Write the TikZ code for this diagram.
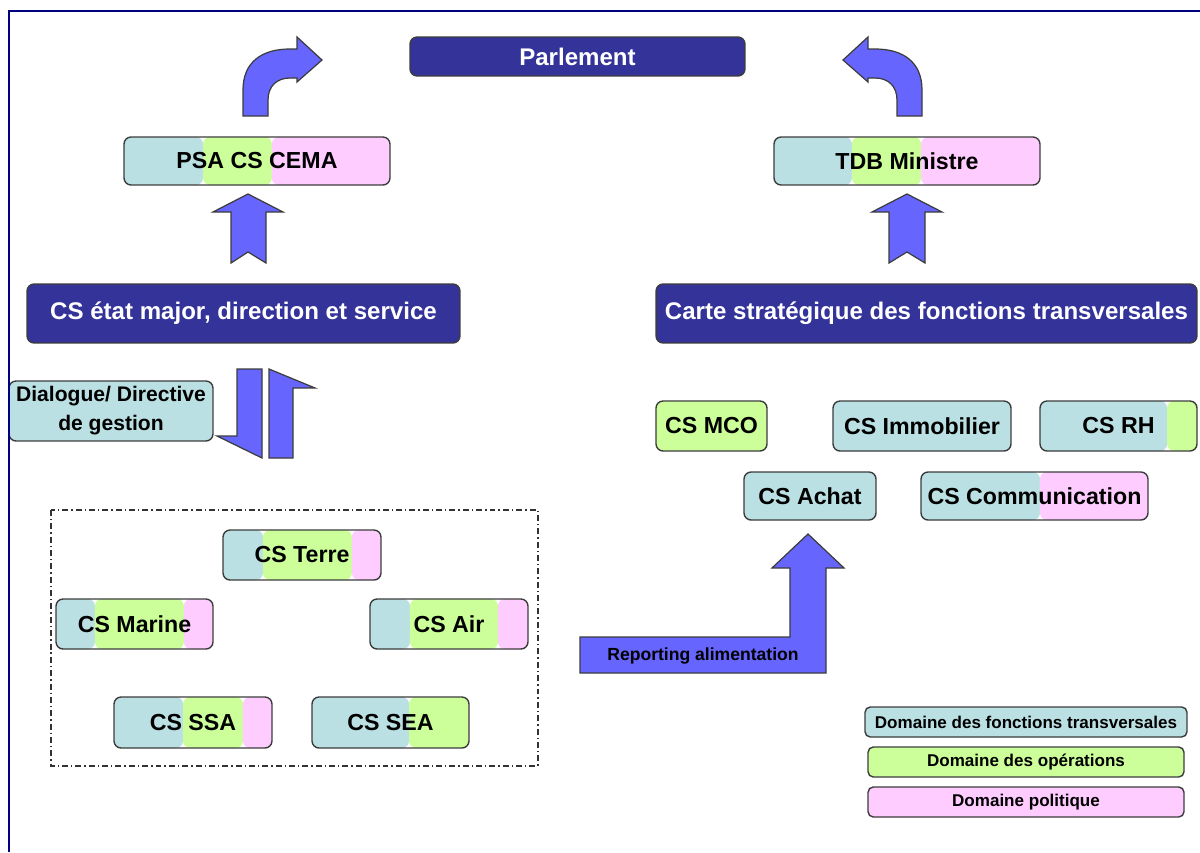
\documentclass[tikz,border=0pt]{standalone}
\usepackage{fontspec}
\setmainfont{Liberation Sans}
\usetikzlibrary{calc}
\definecolor{framec}{HTML}{000080}
\definecolor{darkc}{HTML}{333399}
\definecolor{transc}{HTML}{BBE0E3}
\definecolor{opc}{HTML}{CCFF99}
\definecolor{polc}{HTML}{FFCCFF}
\definecolor{arrowc}{HTML}{6666FF}
\definecolor{edgec}{HTML}{3C3C3C}
\tikzset{
  darkbox/.style={draw=edgec, fill=darkc, rounded corners=4pt, line width=0.8pt, inner sep=0pt, text=white, font=\fontsize{13.7}{16}\selectfont\bfseries},
  csbox/.style 2 args={draw=edgec, rounded corners=4pt, line width=0.8pt, inner sep=0pt, font=\fontsize{13.2}{15}\selectfont\bfseries,
    path picture={
      \coordinate (sw) at (path picture bounding box.south west);
      \coordinate (se) at (path picture bounding box.south east);
      \coordinate (nw) at (path picture bounding box.north west);
      \coordinate (ne) at (path picture bounding box.north east);
      \fill[transc] (sw) rectangle ($(nw)!#1!(ne)$);
      \fill[opc] ($(sw)!#1!(se)$) rectangle ($(nw)!#2!(ne)$);
      \fill[polc] ($(sw)!#2!(se)$) rectangle (ne);
    }},
  legend/.style={rounded corners=3pt, minimum height=0.6cm, font=\fontsize{9.7}{11}\selectfont\bfseries},
  blockarrow/.style={fill=arrowc, draw=edgec, line width=0.7pt, line join=miter},
  dashdotline/.style={draw=black!80, line width=0.6pt, dash pattern=on 3.4pt off 1.7pt on 0.8pt off 1.7pt},
}

\begin{document}
\begin{tikzpicture}[x=0.02cm, y=-0.02cm]
\useasboundingbox (0,0) rectangle (1200,852);
\fill[white] (0,0) rectangle (1200,852);

\node[darkbox, minimum width=6.70cm, minimum height=0.78cm] (parl) at (577.5,56.5) {Parlement};
\node[csbox={0.297}{0.556}, minimum width=5.32cm, minimum height=0.96cm] (psa) at (257,161) {PSA CS CEMA};
\node[csbox={0.293}{0.553}, minimum width=5.32cm, minimum height=0.96cm] (tdb) at (907,161) {TDB Ministre};
\node[darkbox, minimum width=8.66cm, minimum height=1.18cm] (etat) at (243.5,313.5) {CS état major, direction et service};
\node[darkbox, minimum width=10.82cm, minimum height=1.18cm] (carte) at (926.5,313.5) {Carte stratégique des fonctions transversales};

\node[csbox={1}{1}, align=center, minimum width=4.08cm, minimum height=1.2cm, font=\fontsize{12}{16.5}\selectfont\bfseries] (dial) at (111,411) {Dialogue/ Directive\\de gestion};

\node[csbox={0}{1}, minimum width=2.22cm, minimum height=1.0cm] (mco) at (711.5,426) {CS MCO};
\node[csbox={1}{1}, minimum width=3.56cm, minimum height=1.0cm] (immo) at (922,426) {CS Immobilier};
\node[csbox={0.81}{1}, minimum width=3.14cm, minimum height=1.0cm] (rh) at (1118.5,426) {CS RH};
\node[csbox={1}{1}, minimum width=2.64cm, minimum height=0.96cm] (achat) at (810,496) {CS Achat};
\node[csbox={0.524}{0.524}, minimum width=4.54cm, minimum height=0.96cm] (comm) at (1034.5,496) {CS Communication};

\draw[dashdotline] (51,510) rectangle (538,766);
\node[csbox={0.253}{0.816}, minimum width=3.16cm, minimum height=1.0cm] (terre) at (302,555) {CS Terre};
\node[csbox={0.248}{0.815}, minimum width=3.14cm, minimum height=1.0cm] (marine) at (134.5,624) {CS Marine};
\node[csbox={0.253}{0.81}, minimum width=3.16cm, minimum height=1.0cm] (air) at (449,624) {CS Air};
\node[csbox={0.437}{0.816}, minimum width=3.16cm, minimum height=1.02cm] (ssa) at (193,722.5) {CS SSA};
\node[csbox={0.618}{1}, minimum width=3.14cm, minimum height=1.02cm] (sea) at (390.5,722.5) {CS SEA};

\draw[blockarrow] (243,116) -- (243,90) .. controls (243,62) and (262,49) .. (290,49) -- (297,49) -- (297,37) -- (322,60) -- (297,82) -- (297,78) -- (290,78) .. controls (277,78) and (268,86) .. (268,100) -- (268,116) -- cycle;
\draw[blockarrow] (922,116) -- (922,90) .. controls (922,62) and (903,49) .. (875,49) -- (868,49) -- (868,37) -- (843,60) -- (868,82) -- (868,78) -- (875,78) .. controls (888,78) and (897,86) .. (897,100) -- (897,116) -- cycle;
\draw[blockarrow] (248,194) -- (283,212) -- (266,212) -- (266,263) -- (248,252) -- (231,263) -- (231,212) -- (213,212) -- cycle;
\draw[blockarrow] (907,194) -- (942,212) -- (925,212) -- (925,263) -- (907,252) -- (889,263) -- (889,212) -- (872,212) -- cycle;
\draw[blockarrow] (237,369) -- (262,369) -- (262,458) -- (217,436) -- (237,436) -- cycle;
\draw[blockarrow] (269,369) -- (315,388) -- (293,388) -- (293,458) -- (269,458) -- cycle;
\draw[blockarrow] (580,637) -- (790,637) -- (790,568) -- (772,568) -- (808,534) -- (844,568) -- (826,568) -- (826,673) -- (580,673) -- cycle;
\node[font=\fontsize{10}{12}\selectfont\bfseries] (rep) at (703,656) {Reporting alimentation};

\node[csbox={1}{1}, legend, minimum width=6.44cm] (ltrans) at (1026,722) {Domaine des fonctions transversales};
\node[csbox={0}{1}, legend, minimum width=6.32cm] (lop) at (1026,762) {Domaine des opérations};
\node[csbox={0}{0}, legend, minimum width=6.32cm] (lpol) at (1026,802) {Domaine politique};

\draw[framec, line width=1.4pt] (9,852) -- (9,11) -- (1200,11);
\end{tikzpicture}
\end{document}
